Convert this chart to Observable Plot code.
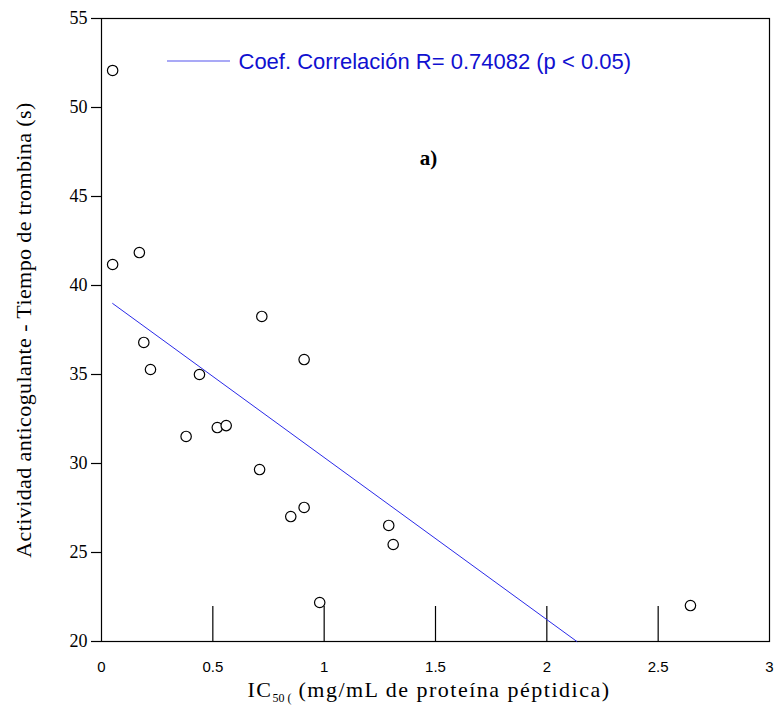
<!DOCTYPE html>
<html><head><meta charset="utf-8">
<script src="https://cdn.jsdelivr.net/npm/d3@7"></script>
<script src="https://cdn.jsdelivr.net/npm/@observablehq/plot@0.6"></script>
<style>body{margin:0;background:#fff;} svg{display:block;}</style>
</head><body><div id="chart"></div>
<script>
// IC50 (mg/mL) values
const ic50 = [0.05, 0.05, 0.17, 0.19, 0.22, 0.44, 0.38, 0.52, 0.56, 0.72, 0.71, 0.85, 0.91, 0.91, 0.98, 1.29, 1.31, 2.645];
// Thrombin time (s)
const thrombin = [52.08, 41.18, 41.85, 36.8, 35.28, 35.0, 31.52, 32.02, 32.13, 38.26, 29.66, 27.02, 27.53, 35.84, 22.19, 26.52, 25.45, 22.02];
// Regression line endpoints
const fitX = [0.05, 2.135];
const fitY = [38.99, 20.0];
const xTicks = [0, 0.5, 1, 1.5, 2, 2.5, 3];
const yTicks = [20, 25, 30, 35, 40, 45, 50, 55];
const legendText = "Coef. Correlación R= 0.74082 (p < 0.05)";
const panelLabel = "a)";
const yLabel = "Actividad anticogulante - Tiempo de trombina (s)";

const points = ic50.map((x, i) => ({x, y: thrombin[i]}));
const fit = fitX.map((x, i) => ({x, y: fitY[i]}));

const serif = "'Liberation Serif', 'Times New Roman', serif";
const sans = "'Liberation Sans', Arial, sans-serif";

const plot = Plot.plot({
  width: 775,
  height: 708,
  marginLeft: 101,
  marginRight: 6,
  marginTop: 18,
  marginBottom: 67,
  style: {background: "#fff", color: "#000"},
  x: {domain: [0, 3]},
  y: {domain: [20, 55]},
  marks: [
    Plot.frame({stroke: "#000", strokeWidth: 1.2}),
    Plot.axisY({ticks: yTicks, tickSize: 10, tickPadding: 4, fontSize: 18, fontFamily: serif, label: null, stroke: "#000", strokeWidth: 1.2}),
    Plot.axisX({ticks: xTicks.filter(d => d > 0 && d < 3), tickSize: -35, text: null, label: null, stroke: "#000", strokeWidth: 1.2}),
    Plot.axisX({ticks: xTicks, tickFormat: d3.format("~g"), tickSize: 0, tickPadding: 20, fontSize: 15, fontFamily: sans, label: null}),
    Plot.line(fit, {x: "x", y: "y", stroke: "#2a2ae8", strokeWidth: 1}),
    Plot.dot(points, {x: "x", y: "y", r: 5.2, stroke: "#000", fill: "#fff", strokeWidth: 1.2}),
    Plot.text([legendText], {frameAnchor: "top-left", dx: 137, dy: 43, lineAnchor: "middle", text: d => d, textAnchor: "start", fontSize: 22, fontFamily: sans, fill: "#1010d0"}),
    Plot.text([panelLabel], {frameAnchor: "top-left", dx: 327, dy: 140, lineAnchor: "middle", text: d => d, textAnchor: "middle", fontSize: 21, fontWeight: "bold", fontFamily: serif, fill: "#000"})
  ]
});

const svg = d3.select(plot);
// legend line
svg.append("line").attr("x1", 167).attr("x2", 230).attr("y1", 61).attr("y2", 61)
  .attr("stroke", "#5555ee").attr("stroke-width", 1.2);
// y axis label
svg.append("text").attr("transform", "translate(31,330) rotate(-90)").attr("text-anchor", "middle")
  .attr("font-family", serif).attr("font-size", 22).attr("letter-spacing", 0.4).attr("fill", "#000")
  .text(yLabel);
// x axis label with subscript
const xl = svg.append("text").attr("x", 429).attr("y", 697).attr("text-anchor", "middle")
  .attr("font-family", serif).attr("font-size", 22).attr("letter-spacing", 1.5).attr("fill", "#000");
xl.append("tspan").text("IC");
xl.append("tspan").attr("font-size", 12).attr("letter-spacing", 0).attr("dy", 5).text("50 (");
xl.append("tspan").attr("dy", -5).text(" (mg/mL de proteína péptidica)");

document.getElementById("chart").appendChild(plot);
</script></body></html>
